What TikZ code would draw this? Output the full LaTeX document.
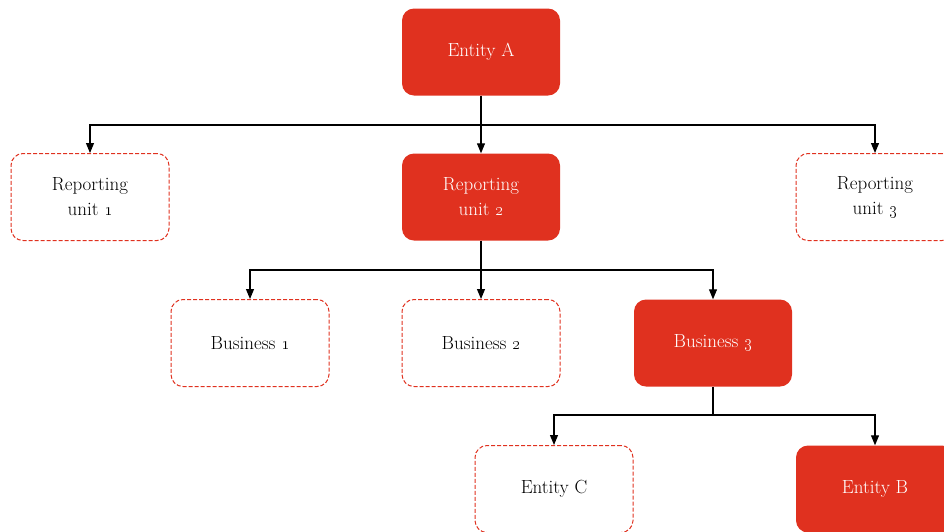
\documentclass[tikz,border=0pt]{standalone}
\usetikzlibrary{arrows.meta}
\definecolor{orgred}{HTML}{E0311F}
\tikzset{
  unitbox/.style={rounded corners=12pt, minimum width=158pt, minimum height=87pt,
    align=center, font=\fontsize{19}{25}\selectfont, inner sep=0pt, text=black},
  fullbox/.style={unitbox, fill=orgred, text=white},
  dashbox/.style={unitbox, draw=orgred, dashed, dash pattern=on 4pt off 2pt, line width=1pt},
  link/.style={line width=1.1pt, -{Triangle[width=8pt,length=10pt]}}
}
\begin{document}
\begin{tikzpicture}[x=1pt,y=-1pt]
\useasboundingbox (0,0) rectangle (944,531);
\pgfmathsetmacro{\colA}{481} % middle column
% top
\node[fullbox] (entA) at (\colA,52) {Entity A};
% reporting units
\node[dashbox] (ru1) at (90,197) {Reporting\\unit \oldstylenums{1}};
\node[fullbox] (ru2) at (\colA,197) {Reporting\\unit \oldstylenums{2}};
\node[dashbox] (ru3) at (875,197) {Reporting\\unit \oldstylenums{3}};
% businesses
\node[dashbox] (bus1) at (250,343) {Business \oldstylenums{1}};
\node[dashbox] (bus2) at (\colA,343) {Business \oldstylenums{2}};
\node[fullbox] (bus3) at (713,343) {Business \oldstylenums{3}};
% entities
\node[dashbox] (entC) at (554,489) {Entity C};
\node[fullbox] (entB) at (875,489) {Entity B};
% connectors
\coordinate (forkA) at (\colA,125);
\coordinate (forkR) at (\colA,270);
\coordinate (forkB) at (713,415);
\draw[line width=1.1pt] (entA.south) -- (forkA);
\draw[link] (forkA) -| (ru1.north);
\draw[link] (forkA) -- (ru2.north);
\draw[link] (forkA) -| (ru3.north);
\draw[line width=1.1pt] (ru2.south) -- (forkR);
\draw[link] (forkR) -| (bus1.north);
\draw[link] (forkR) -- (bus2.north);
\draw[link] (forkR) -| (bus3.north);
\draw[line width=1.1pt] (bus3.south) -- (forkB);
\draw[link] (forkB) -| (entC.north);
\draw[link] (forkB) -| (entB.north);
\end{tikzpicture}
\end{document}
